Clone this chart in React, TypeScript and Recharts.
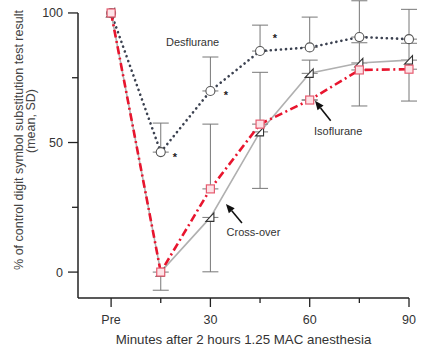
import React from 'react';
import { LineChart, Line, XAxis, YAxis, ErrorBar, ReferenceLine, ReferenceDot } from 'recharts';

const minutes = [0, 15, 30, 45, 60, 75, 90];
const desflurane = [100, 46.3, 69.9, 85.3, 86.7, 90.7, 89.9];
const desflSD = [0, 11.2, 13.1, 10, 11.7, 14, 11.5];
const isoflurane = [100, 0, 32.1, 57.1, 66.4, 78, 78.3];
const isoSD = [0, 0, 25, 20, 15.4, 10.5, 10];
const crossover = [100, 0, 21.1, 54.1, 76.7, 80.7, 81.8];
const crossSD = [0, 7, 21, 21.8, 10.3, 16.6, 15.8];

const xTicks = [0, 15, 30, 45, 60, 75, 90];
const xTickLabels = ['Pre', '', '30', '', '60', '', '90'];
const yTicks = [0, 25, 50, 75, 100];
const yTickLabels = ['0', '', '50', '', '100'];

const FONT = '"Liberation Sans", Arial, Helvetica, sans-serif';

const data = minutes.map((m, i) => ({
  minute: m,
  des: desflurane[i],
  desErr: desflSD[i] ? [0, desflSD[i]] : null,
  iso: isoflurane[i],
  isoErr: isoSD[i] ? [0, isoSD[i]] : null,
  cross: crossover[i],
  crossErr: crossSD[i] ? [crossSD[i], 0] : null,
}));

const XTick = (props: any) => {
  const { x, y, payload } = props;
  const i = xTicks.indexOf(payload.value);
  const label = xTickLabels[i] || '';
  const major = label !== '';
  return (
    <g>
      <line x1={x} y1={y} x2={x} y2={y + (major ? 9 : 5)} stroke="#222" strokeWidth={1.3} />
      {major && (
        <text x={x} y={y + 25.5} textAnchor="middle" fontSize={12.5} fill="#333" fontFamily={FONT}>
          {label}
        </text>
      )}
    </g>
  );
};

const YTick = (props: any) => {
  const { x, y, payload } = props;
  const i = yTicks.indexOf(payload.value);
  const label = yTickLabels[i] || '';
  const major = label !== '';
  return (
    <g>
      <line x1={x - (major ? 10 : 6)} y1={y} x2={x} y2={y} stroke="#222" strokeWidth={1.3} />
      {major && (
        <text x={x - 15} y={y + 4.5} textAnchor="end" fontSize={12.5} fill="#333" fontFamily={FONT}>
          {label}
        </text>
      )}
    </g>
  );
};

const YLabel = () => (
  <g fontFamily={FONT} fontSize={12.5} fill="#444">
    <text x={23} y={140} textAnchor="middle" transform="rotate(-90 23 140)">
      % of control digit symbol substitution test result
    </text>
    <text x={34.5} y={121} textAnchor="middle" transform="rotate(-90 34.5 121)">
      (mean, SD)
    </text>
  </g>
);

const CircleDot = (p: any) =>
  p.cx == null ? <g key={`c${p.index}`} /> : (
    <circle key={`c${p.index}`} cx={p.cx} cy={p.cy} r={4.5} fill="#fff" stroke="#555" strokeWidth={1.1} />
  );

const SquareDot = (p: any) =>
  p.cx == null ? <g key={`s${p.index}`} /> : (
    <rect key={`s${p.index}`} x={p.cx - 4} y={p.cy - 4} width={8} height={8} fill="#fde3e7" stroke="#e65c70" strokeWidth={1.2} />
  );

const TriDot = (p: any) =>
  p.cx == null ? <g key={`t${p.index}`} /> : (
    <path
      key={`t${p.index}`}
      d={`M${p.cx - 4.5},${p.cy + 4} L${p.cx + 3.5},${p.cy - 4.5} L${p.cx + 3.5},${p.cy + 4} Z`}
      fill="#fff"
      stroke="#333"
      strokeWidth={1.1}
    />
  );

const textShape = (label: string, size = 11) => (p: any) => (
  <text x={p.cx} y={p.cy} fontSize={size} fill="#333" fontFamily={FONT}>
    {label}
  </text>
);

const starShape = (p: any) => (
  <text x={p.cx} y={p.cy + 6} fontSize={11} fontWeight="bold" fill="#222" textAnchor="middle" fontFamily={FONT}>
    *
  </text>
);

const arrowShape = (dx: number, dy: number) => (p: any) => {
  const tx = p.cx;
  const ty = p.cy;
  const len = Math.sqrt(dx * dx + dy * dy);
  const ux = dx / len;
  const uy = dy / len;
  const bx = tx + ux * 9;
  const by = ty + uy * 9;
  const nx = -uy;
  const ny = ux;
  return (
    <g>
      <line x1={bx} y1={by} x2={tx + dx} y2={ty + dy} stroke="#111" strokeWidth={1.6} />
      <polygon
        points={`${tx},${ty} ${bx + nx * 3.8},${by + ny * 3.8} ${bx - nx * 3.8},${by - ny * 3.8}`}
        fill="#111"
      />
    </g>
  );
};

export default function App() {
  return (
    <div style={{ position: 'absolute', left: 0, top: 0, fontFamily: FONT }}>
      <LineChart width={428} height={349} data={data} margin={{ top: 0, right: 19, bottom: 0, left: 0 }}>
        <XAxis
          dataKey="minute"
          type="number"
          domain={[-10, 90]}
          ticks={xTicks}
          interval={0}
          tickSize={0}
          tickMargin={0}
          tickLine={false}
          tick={<XTick />}
          axisLine={{ stroke: '#222', strokeWidth: 1.5 }}
          height={51}
          label={{
            value: 'Minutes after 2 hours 1.25 MAC anesthesia',
            position: 'insideBottom',
            offset: 5.5,
            fontSize: 13.3,
            fill: '#333',
            fontFamily: FONT,
          }}
        />
        <YAxis
          type="number"
          domain={[-10, 105]}
          ticks={yTicks}
          interval={0}
          tickSize={0}
          tickMargin={0}
          tickLine={false}
          tick={<YTick />}
          axisLine={false}
          width={78}
          label={<YLabel />}
        />
        <ReferenceLine
          segment={[
            { x: -10, y: -10 },
            { x: -10, y: 100 },
          ]}
          stroke="#222"
          strokeWidth={1.5}
        />
        <Line
          dataKey="des"
          type="linear"
          stroke="#3b4150"
          strokeWidth={2.6}
          strokeDasharray="0.1 5"
          strokeLinecap="round"
          dot={CircleDot}
          activeDot={false}
          isAnimationActive={false}
        >
          <ErrorBar dataKey="desErr" direction="y" width={8} stroke="#777" strokeWidth={1} />
        </Line>
        <Line
          dataKey="cross"
          type="linear"
          stroke="#b0b0b0"
          strokeWidth={1.6}
          dot={TriDot}
          activeDot={false}
          isAnimationActive={false}
        >
          <ErrorBar dataKey="crossErr" direction="y" width={8} stroke="#777" strokeWidth={1} />
        </Line>
        <Line
          dataKey="iso"
          type="linear"
          stroke="#e8152e"
          strokeWidth={2.6}
          strokeDasharray="8 3.5 2 3.5"
          dot={SquareDot}
          activeDot={false}
          isAnimationActive={false}
        >
          <ErrorBar dataKey="isoErr" direction="y" width={8} stroke="#777" strokeWidth={1} />
        </Line>
        <ReferenceDot x={16.6} y={87.1} r={0} shape={textShape('Desflurane')} />
        <ReferenceDot x={61.3} y={52.9} r={0} shape={textShape('Isoflurane')} />
        <ReferenceDot x={34.9} y={13.9} r={0} shape={textShape('Cross-over')} />
        <ReferenceDot x={19.3} y={45.2} r={0} shape={starShape} />
        <ReferenceDot x={34.7} y={69.1} r={0} shape={starShape} />
        <ReferenceDot x={49.5} y={91.1} r={0} shape={starShape} />
        <ReferenceDot x={61.6} y={66.1} r={0} shape={arrowShape(15.7, 20)} />
        <ReferenceDot x={34.7} y={26.3} r={0} shape={arrowShape(16, 19)} />
      </LineChart>
    </div>
  );
}
